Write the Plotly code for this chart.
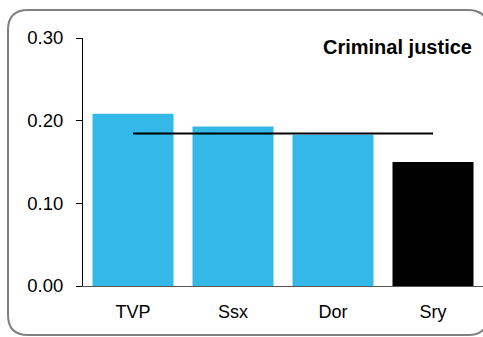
import plotly.graph_objects as go

categories = ["TVP", "Ssx", "Dor", "Sry"]
values = [0.2085, 0.193, 0.183, 0.150]
bar_colors = ["#33B8E8", "#33B8E8", "#33B8E8", "#000000"]
avg_values = [0.1845, 0.1845, 0.1845, 0.1845]
y_ticks = [0.0, 0.1, 0.2, 0.3]
y_ticktext = ["0.00", "0.10", "0.20", "0.30"]
title_text = "Criminal justice"

W, H = 483, 337
L, R, T, B = 83, 0, 38, 51
pw, ph = W - L - R, H - T - B

def px(x):
    return (x - L) / pw

def py(y):
    return (H - B - y) / ph

fig = go.Figure()
fig.add_trace(go.Bar(x=categories, y=values, marker=dict(color=bar_colors, line=dict(width=0)),
                     width=0.81, showlegend=False))
fig.add_trace(go.Scatter(x=categories, y=avg_values, mode="lines",
                         line=dict(color="black", width=2), showlegend=False))

# rounded border
x0, x1, y0, y1, r = 8, 488, 10, 335, 20
rx, ry = r / pw, r / ph
X0, X1, Y0, Y1 = px(x0), px(x1), py(y1), py(y0)
path = (f"M {X0+rx},{Y1} L {X1-rx},{Y1} Q {X1},{Y1} {X1},{Y1-ry} "
        f"L {X1},{Y0+ry} Q {X1},{Y0} {X1-rx},{Y0} L {X0+rx},{Y0} "
        f"Q {X0},{Y0} {X0},{Y0+ry} L {X0},{Y1-ry} Q {X0},{Y1} {X0+rx},{Y1} Z")
fig.add_shape(type="path", xref="paper", yref="paper", path=path,
              line=dict(color="#808080", width=2), layer="below")

fig.add_annotation(text="<b>" + title_text + "</b>", xref="paper", yref="paper",
                   x=px(474), y=py(47), xanchor="right", yanchor="middle",
                   showarrow=False, font=dict(size=20, color="black", family="Liberation Sans, Arial"))

fig.update_layout(
    width=W, height=H,
    margin=dict(l=L, r=R, t=T, b=B, pad=0),
    paper_bgcolor="white", plot_bgcolor="white",
    font=dict(family="Liberation Sans, Arial", color="black", size=18),
    xaxis=dict(range=[-0.5, 3.5], showgrid=False, zeroline=False, showline=True,
               linecolor="#555555", linewidth=1, ticks="", tickfont=dict(size=18),
               ticklabelstandoff=9, fixedrange=True),
    yaxis=dict(range=[0, 0.30], tickvals=y_ticks, ticktext=y_ticktext, showgrid=False,
               zeroline=False, showline=True, linecolor="black", linewidth=1,
               ticks="outside", ticklen=6, tickcolor="black", tickfont=dict(size=18.5),
               ticklabelstandoff=9, fixedrange=True),
)

fig.write_html("out.html", config={"displayModeBar": False},
               post_script="document.body.style.margin='0';document.body.style.overflow='hidden';")
